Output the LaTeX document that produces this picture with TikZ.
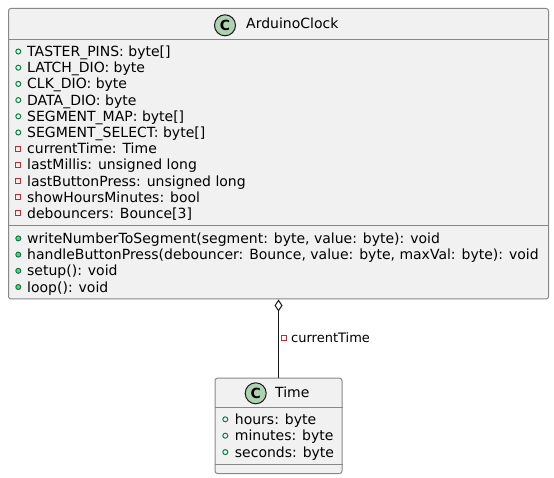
\documentclass[tikz,border=0pt]{standalone}
\usepackage{fontspec}
\setmainfont{DejaVu Sans}
\usetikzlibrary{positioning}
\usetikzlibrary{arrows.meta}
\definecolor{boxfill}{HTML}{F1F1F1}
\definecolor{boxline}{HTML}{888888}
\definecolor{pubgreen}{HTML}{038048}
\definecolor{methgreen}{HTML}{84BE84}
\definecolor{privred}{HTML}{C82930}
\definecolor{circgreen}{HTML}{ADD1B2}
\tikzset{
    classbox/.style={
        draw=boxline,
        fill=boxfill,
        line width=1pt,
        rounded corners=2.5pt,
        inner sep=0pt},
    classicon/.style={
        circle,
        draw=black!90,
        fill=circgreen,
        line width=1pt,
        minimum size=21pt,
        inner sep=0pt,
        font=\bfseries\fontsize{14}{14}\selectfont},
    classname/.style={
        anchor=base west,
        inner sep=0pt,
        font=\fontsize{14}{14}\selectfont},
    member/.style={
        anchor=base west,
        inner sep=0pt,
        font=\fontsize{14}{14}\selectfont},
    pubfield/.style={
        circle,
        draw=pubgreen,
        line width=1pt,
        minimum size=5pt,
        inner sep=0pt},
    privfield/.style={
        rectangle,
        draw=privred,
        line width=1pt,
        minimum size=5pt,
        inner sep=0pt},
    pubmethod/.style={
        circle,
        draw=pubgreen,
        fill=methgreen,
        line width=1pt,
        minimum size=5pt,
        inner sep=0pt},
    separator/.style={
        draw=boxline,
        line width=1pt},
    aggregation/.style={
        draw=black!90,
        line width=1pt,
        -{Diamond[open,fill=white,length=12pt,width=8pt]}}}

\begin{document}
\begin{tikzpicture}[x=1pt,y=-1pt]
    \useasboundingbox (0,0) rectangle (554,478);

    % ArduinoClock class
    \node[classbox,minimum width=540pt,minimum height=290.5pt,anchor=north west] (clock) at (8,8) {};
    \node[classicon] (clockicon) at (225,25.3) {C};
    \node[classname] (clockname) at (246,28.5) {ArduinoClock};
    \draw[separator] (clock.west |- {(0,40)}) -- (clock.east |- {(0,40)});
    \draw[separator] (clock.west |- {(0,226)}) -- (clock.east |- {(0,226)});

    \foreach \vis/\txt [count=\i from 0] in {
        pubfield/{TASTER\_PINS: byte[]},
        pubfield/{LATCH\_DIO: byte},
        pubfield/{CLK\_DIO: byte},
        pubfield/{DATA\_DIO: byte},
        pubfield/{SEGMENT\_MAP: byte[]},
        pubfield/{SEGMENT\_SELECT: byte[]},
        privfield/{currentTime: Time},
        privfield/{lastMillis: unsigned long},
        privfield/{lastButtonPress: unsigned long},
        privfield/{showHoursMinutes: bool},
        privfield/{debouncers: Bounce[3]}}
    {
        \node[\vis] (clockvis\i) at (18.3,51.5+16.2*\i) {};
        \node[member] (clockattr\i) at (27,56.5+16.2*\i) {\txt};
    }

    \foreach \txt [count=\i from 0] in {
        {writeNumberToSegment(segment: byte, value: byte): void},
        {handleButtonPress(debouncer: Bounce, value: byte, maxVal: byte): void},
        {setup(): void},
        {loop(): void}}
    {
        \node[pubmethod] (clockvism\i) at (18.3,238.4+16.2*\i) {};
        \node[member] (clockmeth\i) at (27,243.4+16.2*\i) {\txt};
    }

    % Time class
    \node[classbox,minimum width=127pt,minimum height=95.3pt,below=78.2pt of clock] (time) {};
    \node[classicon] (timeicon) at (255.7,393.3) {C};
    \node[classname] (timename) at (275,397.3) {Time};
    \draw[separator] (time.west |- {(0,407.7)}) -- (time.east |- {(0,407.7)});
    \draw[separator] (time.west |- {(0,464)}) -- (time.east |- {(0,464)});

    \foreach \txt [count=\i from 0] in {hours: byte, minutes: byte, seconds: byte}
    {
        \node[pubfield] (timevis\i) at (225.3,419.3+16.4*\i) {};
        \node[member] (timeattr\i) at (234.7,424.3+16.4*\i) {\txt};
    }

    % aggregation
    \draw[aggregation] (time.north) -- (clock.south);
    \node[privfield] (linkvis) at (284,338) {};
    \node[member,font=\fontsize{13}{13}\selectfont] (linklabel) at (291,342) {currentTime};
\end{tikzpicture}
\end{document}
